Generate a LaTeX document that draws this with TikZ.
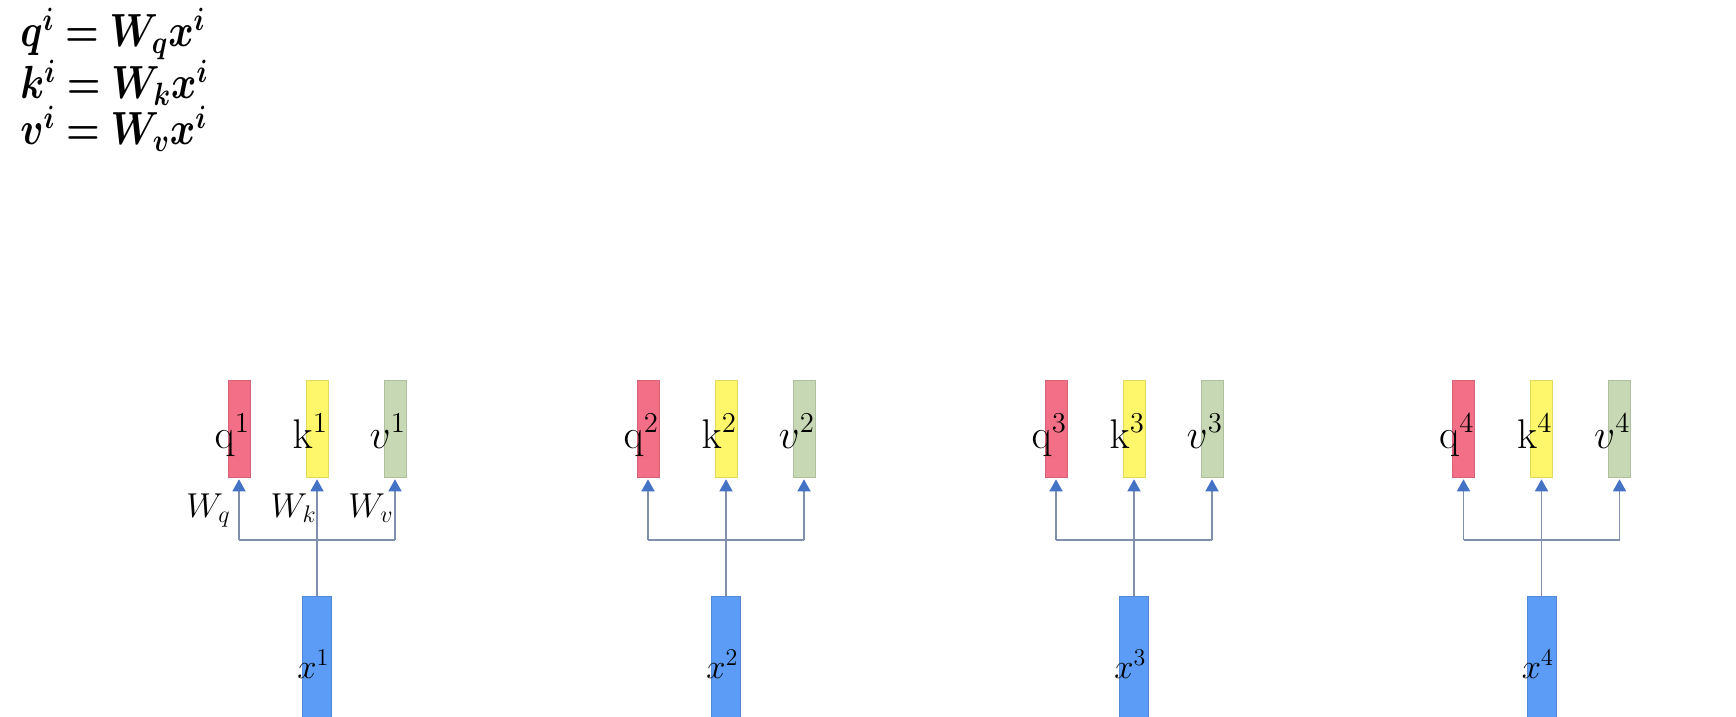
\documentclass[tikz,border=0pt]{standalone}
\usepackage{bm}
\usepackage{graphicx}
\usetikzlibrary{arrows.meta}
\definecolor{qcol}{HTML}{F36F87}
\definecolor{kcol}{HTML}{FFF76B}
\definecolor{vcol}{HTML}{C6D9B4}
\definecolor{xcol}{HTML}{5C9BF6}
\definecolor{wirecol}{HTML}{8090AC}
\definecolor{tipcol}{HTML}{4472C4}
\newcommand{\fmlbox}[1]{\scalebox{0.93}[1.12]{#1}}
\begin{document}
\begin{tikzpicture}[x=0.5pt,y=-0.5pt,
  vecbox/.style={draw=#1!88!black, line width=0.3pt, fill=#1, minimum width=11pt, minimum height=48.5pt, inner sep=0pt},
  xbox/.style={draw=xcol!88!black, line width=0.3pt, fill=xcol, minimum width=14.5pt, minimum height=67pt, inner sep=0pt},
  lbl/.style={anchor=base east, inner sep=0pt, font=\fontsize{22}{26}\selectfont},
  xlbl/.style={anchor=base east, inner sep=0pt, font=\fontsize{18}{22}\selectfont},
  wlbl/.style={anchor=base east, inner sep=0pt, font=\fontsize{17}{20}\selectfont},
  fml/.style={anchor=base west, inner sep=0pt, font=\fontsize{21}{25}\selectfont},
  wire/.style={draw=wirecol, line width=0.75pt},
  uparrow/.style={wire, shorten >=1pt, -{Triangle[width=6.5pt,length=6pt,color=tipcol]}}
]
\useasboundingbox (0,0) rectangle (1736,717);
\clip (0,0) rectangle (1736,717);
\fill[white] (0,0) rectangle (1736,717);

\node[fml] (eq1) at (20,47) {\fmlbox{$\bm{q^{i} = W_{q}x^{i}}$}};
\node[fml] (eq2) at (20,99) {\fmlbox{$\bm{k^{i} = W_{k}x^{i}}$}};
\node[fml] (eq3) at (20,145) {\fmlbox{$\bm{v^{i} = W_{v}x^{i}}$}};

\foreach \i/\c in {1/317,2/726,3/1134,4/1541.5} {
  \node[vecbox=qcol] (q\i) at (\c-78,428.5) {};
  \node[vecbox=kcol] (k\i) at (\c,428.5) {};
  \node[vecbox=vcol] (v\i) at (\c+78,428.5) {};
  \node[xbox] (x\i) at (\c,663) {};
  \coordinate (j\i) at (\c,540);
  \node[lbl] (ql\i) at ([yshift=-9.75pt]q\i.east) {$\mathrm{q}^{\i}$};
  \node[lbl] (kl\i) at ([yshift=-9.75pt]k\i.east) {$\mathrm{k}^{\i}$};
  \node[lbl] (vl\i) at ([yshift=-9.75pt]v\i.east) {$v^{\i}$};
  \node[xlbl] (xl\i) at ([xshift=-1pt,yshift=-7.5pt]x\i.east) {$x^{\i}$};
  \draw[wire] (q\i.south |- j\i) -- (v\i.south |- j\i);
  \draw[uparrow] (q\i.south |- j\i) -- (q\i.south);
  \draw[uparrow] (x\i.north) -- (k\i.south);
  \draw[uparrow] (v\i.south |- j\i) -- (v\i.south);
}

\node[wlbl] (wq) at (231,517) {$W_q$};
\node[wlbl] (wk) at (317,517) {$W_k$};
\node[wlbl] (wv) at (394,517) {$W_v$};
\end{tikzpicture}
\end{document}
